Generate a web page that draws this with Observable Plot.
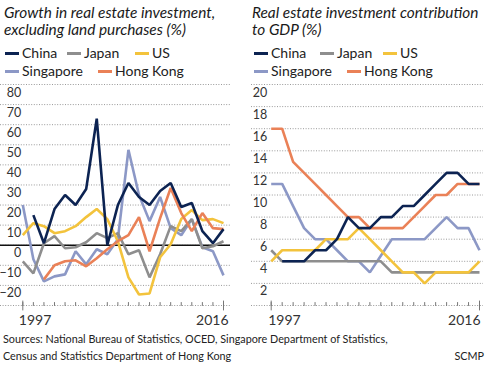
<!DOCTYPE html>
<html><head><meta charset="utf-8">
<script src="https://cdn.jsdelivr.net/npm/d3@7"></script>
<script src="https://cdn.jsdelivr.net/npm/@observablehq/plot@0.6"></script>
<style>
body{margin:0;background:#fff;}
#wrap{position:relative;width:486px;height:370px;overflow:hidden;font-family:Lato,Roboto,sans-serif;color:#222;}
.title{position:absolute;font-style:italic;font-size:15.4px;line-height:17px;white-space:nowrap;color:#1a1a1a;}
.leg{position:absolute;font-size:14px;line-height:16px;white-space:nowrap;color:#222;}
.sw{position:absolute;width:14px;height:3px;}
.src{position:absolute;font-size:10.8px;line-height:16.5px;white-space:nowrap;color:#222;}
.chart{position:absolute;top:80px;}
</style></head><body><div id="wrap"></div>
<script>
const years = [1997,1998,1999,2000,2001,2002,2003,2004,2005,2006,2007,2008,2009,2010,2011,2012,2013,2014,2015,2016];
const names = ["China","Japan","US","Singapore","Hong Kong"];
const colors = ["#0c2352","#8e8e8e","#f3c33c","#8c98c6","#ea8157"];

// Growth in real estate investment, excluding land purchases (%)
const growthChina     = [null,15,1,18,25,20,28,63,0,20,31,24,20,27,31,19,21,7,1,8];
const growthJapan     = [-8,-14,1,4.5,-1.5,-1,1.5,6,3.5,6,-4.5,-2.5,-16,-4.5,9.5,7,13,-1.5,-0.5,2];
const growthUS        = [5,11,9.5,6,7,9.5,14,18,13,2,-16,-24.5,-24,-6,0.5,13,17.5,12.5,13,11];
const growthSingapore = [20,-7,-18,-15.5,-14.5,-3,-9.5,-2,-4.5,3,47.5,25,12,24,8.5,5,13,-1,-3,-15];
const growthHongKong  = [null,null,-17,-10,-8,-7.5,-10.5,-6.5,-2,2,5,14,-3,13.5,28.5,16,7,16,8.5,8];

// Real estate investment contribution to GDP (%)
const gdpChina     = [null,4,4,4,5,5,6,8,7,7,8,8,9,9,10,11,12,12,11,11];
const gdpJapan     = [5,4,4,4,4,4,4,4,4,4,4,3,3,3,3,3,3,3,3,3];
const gdpUS        = [4,5,5,5,5,6,6,6,7,6,5,4,3,3,2,3,3,3,3,4];
const gdpSingapore = [11,11,9,7,6,6,5,4,4,3,4.5,6,6,6,6,7,8,7,7,5];
const gdpHongKong  = [16,16,13,12,11,10,9,8,8,7,7,7,7,8,9,10,10,11,11,11];

const growthGrid = [-30,-20,-10,0,10,20,30,40,50,60,70,80];
const growthLabels = [-20,-10,0,10,20,30,40,50,60,70,80];
const gdpGrid = [0,2,4,6,8,10,12,14,16,18,20];
const gdpLabels = [2,4,6,8,10,12,14,16,18,20];
const endYears = [1997, 2016];

function table(seriesArrays){
  // draw order: Singapore, Japan, US, Hong Kong, China (China on top)
  const order = [3,1,2,4,0];
  const rows = [];
  for (const k of order) {
    seriesArrays[k].forEach((v,i)=>{ rows.push({year: years[i], value: v, series: names[k]}); });
  }
  return rows;
}

const tickUp = {draw(ctx, l){ ctx.moveTo(0,0); ctx.lineTo(0,-l); }};
const tickMid = {draw(ctx, l){ ctx.moveTo(0,-l/2); ctx.lineTo(0,l/2); }};
const font = 'Lato,Roboto,sans-serif';

function chart({data, grid, labels, yDomain, width, marginLeft, marginRight, gridInsetL, gridInsetR, labelPad, dx1997, dx2016, zero}){
  const marks = [
    Plot.ruleY(grid, {y: d=>d, stroke:"#9a9a9a", strokeWidth:1, strokeDasharray:"1,1.6", insetLeft:gridInsetL, insetRight:gridInsetR}),
  ];
  if (zero) marks.push(Plot.ruleY([0], {y: d=>d, stroke:"#111", strokeWidth:1.6, insetLeft:gridInsetL, insetRight:gridInsetR}));
  marks.push(
    Plot.vector(years, {x: d=>d, frameAnchor:"bottom", length:3, rotate:0, anchor:"start", shape: tickUp, stroke:"#777", strokeWidth:1}),
    Plot.vector(endYears, {x: d=>d, frameAnchor:"bottom", length:9, rotate:0, anchor:"start", shape: tickMid, stroke:"#777", strokeWidth:1}),
    Plot.line(data, {x:"year", y:"value", z:"series", stroke:"series", strokeWidth:2.6, strokeLinejoin:"miter", strokeLinecap:"butt"}),
    Plot.axisY(labels, {tickSize:0, tickPadding:labelPad, dy:8, fontSize:12.5, fill:"#333", label:null}),
    Plot.axisX([1997], {tickSize:0, tickPadding:10, textAnchor:"start", dx:dx1997, fontSize:14, fill:"#333", tickFormat: d=>String(d), label:null}),
    Plot.axisX([2016], {tickSize:0, tickPadding:10, textAnchor:"end", dx:dx2016, fontSize:14, fill:"#333", tickFormat: d=>String(d), label:null})
  );
  return Plot.plot({
    width, height:252, marginTop:4, marginBottom:27, marginLeft, marginRight,
    x:{domain:[1997,2016], label:null},
    y:{domain:yDomain, label:null},
    color:{domain:names, range:colors},
    style:{fontFamily:font, background:"transparent", overflow:"visible", color:"#333"},
    marks
  });
}

const wrap = document.getElementById("wrap");
function addDiv(cls, html, css){ const d=document.createElement("div"); d.className=cls; d.innerHTML=html; Object.assign(d.style, css); wrap.appendChild(d); return d; }

// titles
addDiv("title","Growth in real estate investment,<br>excluding land purchases (%)",{left:"4px",top:"3.5px"});
addDiv("title","Real estate investment contribution<br>to GDP (%)",{left:"252px",top:"3.5px"});

// legends
function legend(items){
  for (const it of items){
    const k = names.indexOf(it.name);
    addDiv("sw","",{left: it.x+"px", top:(it.row?69.5:52)+"px", background: colors[k]});
    addDiv("leg", it.name, {left:(it.x+17)+"px", top:(it.row?63:45.3)+"px"});
  }
}
legend([{name:"China",x:5,row:0},{name:"Japan",x:67,row:0},{name:"US",x:135,row:0},{name:"Singapore",x:5,row:1},{name:"Hong Kong",x:98,row:1}]);
legend([{name:"China",x:254,row:0},{name:"Japan",x:320,row:0},{name:"US",x:383,row:0},{name:"Singapore",x:254,row:1},{name:"Hong Kong",x:347,row:1}]);

// charts
const left = chart({data: table([growthChina,growthJapan,growthUS,growthSingapore,growthHongKong]), grid: growthGrid, labels: growthLabels, yDomain:[-30,80], width:242, marginLeft:22.3, marginRight:19, gridInsetL:-22.3, gridInsetR:-7, labelPad:1.5, dx1997:-4, dx2016:5, zero:true});
left.classList.add("chart"); left.style.left="0px"; wrap.appendChild(left);
const right = chart({data: table([gdpChina,gdpJapan,gdpUS,gdpSingapore,gdpHongKong]), grid: gdpGrid, labels: gdpLabels, yDomain:[0,20], width:238, marginLeft:22.7, marginRight:7, gridInsetL:-19.7, gridInsetR:-4, labelPad:4, dx1997:-3, dx2016:1, zero:false});
right.classList.add("chart"); right.style.left="248px"; wrap.appendChild(right);

// sources
addDiv("src","Sources: National Bureau of Statistics, OCED, Singapore Department of Statistics,<br>Census and Statistics Department of Hong Kong",{left:"3px",top:"331px"});
addDiv("src","SCMP",{right:"2px",top:"347.5px"});
</script></body></html>
